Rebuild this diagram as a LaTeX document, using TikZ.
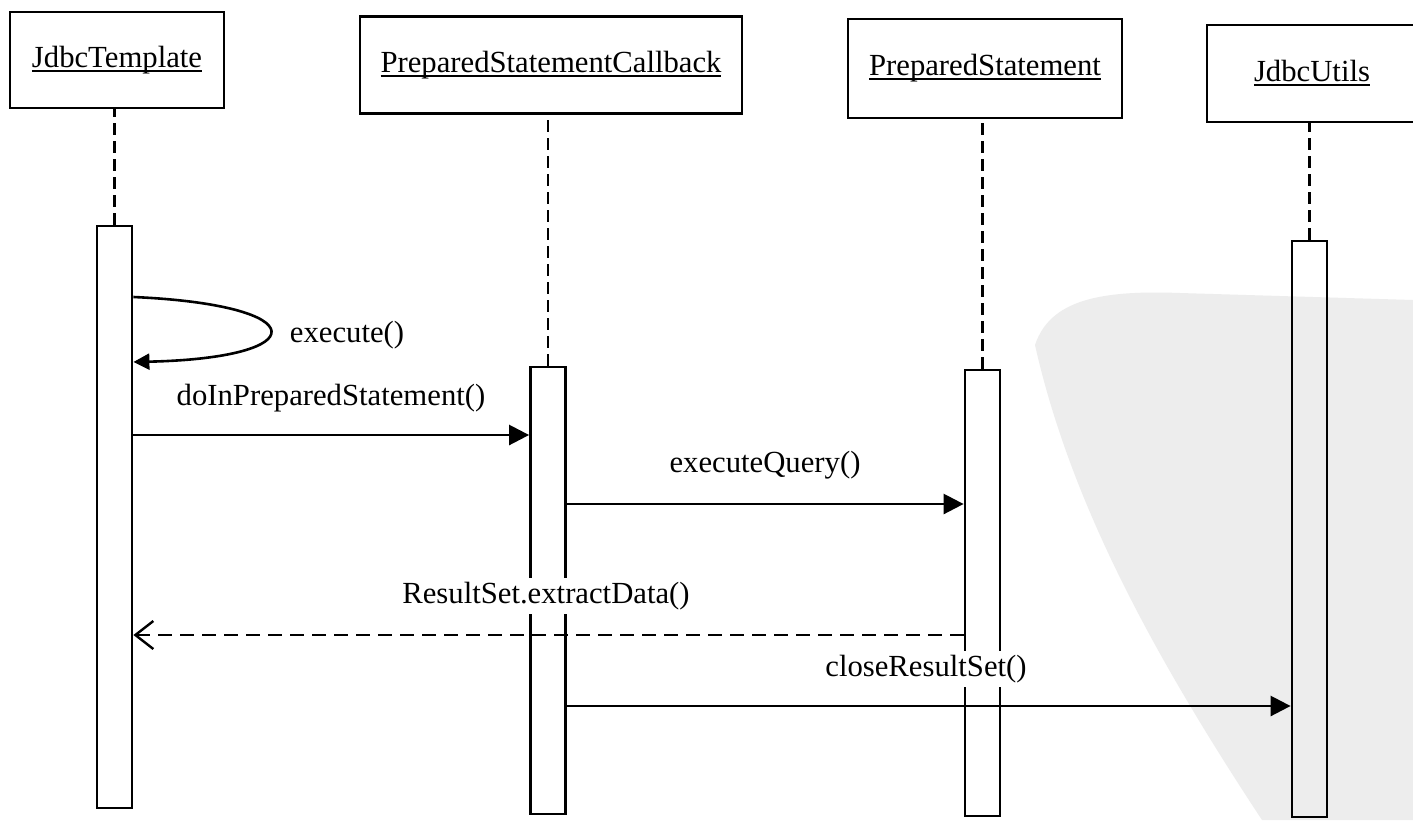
\documentclass[tikz,border=0pt]{standalone}
\usepackage{fontspec}
\setmainfont{Liberation Serif}
\usetikzlibrary{arrows.meta}
\newcommand{\myul}[1]{\setbox0\hbox{#1}\rlap{\rule[-2.2pt]{\wd0}{1pt}}\box0}
\begin{document}
\begin{tikzpicture}[x=0.5pt,y=-0.5pt,
  every node/.style={font=\fontsize{15.35}{18}\selectfont},
  obj/.style={draw,line width=1.4pt,inner sep=0pt,align=center},
  actbox/.style={draw,line width=1.4pt,inner sep=0pt,minimum width=17.5pt},
  life/.style={line width=1.3pt,dash pattern=on 6pt off 3pt},
  msg/.style={line width=1.3pt,-{Triangle[length=10pt,width=10pt]}},
  selfmsg/.style={line width=1.3pt,-{Triangle[length=8pt,width=8pt]}},
  ret/.style={line width=1.3pt,dash pattern=on 7pt off 4pt,-{Straight Barb[length=9pt,width=14pt,line width=1.2pt]}},
  lbl/.style={inner sep=0pt,anchor=base},
  wlbl/.style={inner sep=2pt,anchor=base,fill=white}]
\clip (0,0) rectangle (1413,820);
\fill[white] (0,0) rectangle (1413,820);
% scan watermark background
\fill[black!7] (1035,345) .. controls (1050,300) and (1100,290) .. (1180,293) -- (1413,300) -- (1413,820) -- (1262,820) .. controls (1150,650) and (1070,500) .. cycle;

% participants
\node[obj,minimum width=107pt,minimum height=48pt] (p1) at (117,60) {\myul{JdbcTemplate}};
\node[obj,minimum width=191pt,minimum height=48.5pt] (p2) at (551,65) {\myul{PreparedStatementCallback}};
\node[obj,minimum width=137pt,minimum height=49.5pt] (p3) at (985,68.5) {\myul{PreparedStatement}};
\node[obj,minimum width=105pt,minimum height=48.5pt] (p4) at (1312,73.5) {\myul{JdbcUtils}};

% activation boxes
\node[actbox,minimum height=291pt] (a1) at (114.5,517) {};
\node[actbox,minimum height=223.5pt] (a2) at (548,590.5) {};
\node[actbox,minimum height=223pt] (a3) at (982.5,593) {};
\node[actbox,minimum height=288pt] (a4) at (1309.5,529) {};

% lifelines
\draw[life] (a1.north) -- (a1.north |- p1.south);
\draw[life] (a2.north) -- (a2.north |- p2.south);
\draw[life] (a3.north) -- (a3.north |- p3.south);
\draw[life] (a4.north) -- (a4.north |- p4.south);

% messages
\draw[selfmsg] (a1.east |- 0,297) .. controls (315,305) and (315,358) .. (a1.east |- 0,362);
\node[lbl] (l1) at (347,342) {execute()};

\draw[msg] (a1.east |- 0,435) -- (a2.west |- 0,435);
\node[lbl] (l2) at (331,405) {doInPreparedStatement()};

\draw[msg] (a2.east |- 0,504) -- (a3.west |- 0,504);
\node[lbl] (l3) at (765,472) {executeQuery()};

\draw[ret] (a3.west |- 0,635) -- (a1.east |- 0,635);
\node[wlbl] (l4) at (546,603) {ResultSet.extractData()};

\draw[msg] (a2.east |- 0,706) -- (a4.west |- 0,706);
\node[wlbl] (l5) at (926,676) {closeResultSet()};
\end{tikzpicture}
\end{document}
